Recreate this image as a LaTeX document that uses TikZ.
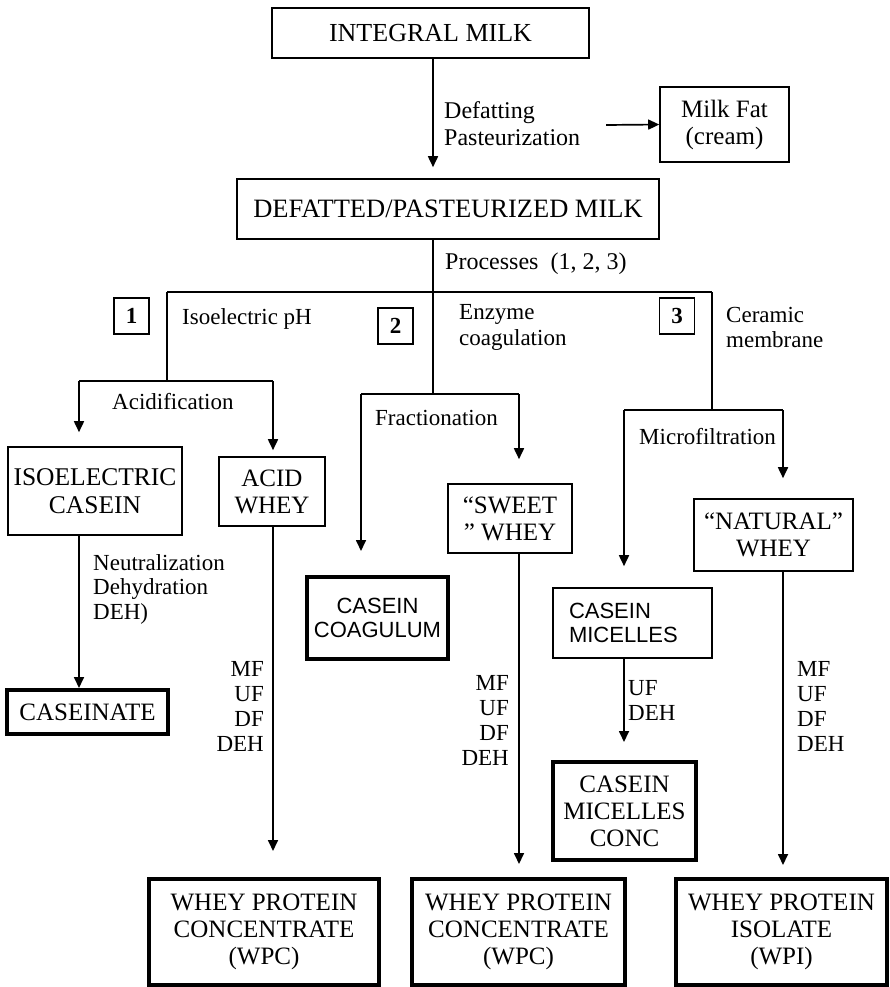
\documentclass[tikz,border=0pt]{standalone}
\usepackage{fontspec}
\setmainfont{Liberation Serif}
\newfontfamily\arialfont{Liberation Sans}
\usetikzlibrary{arrows.meta}
\newcommand\fsz[2]{\fontsize{#1}{#2}\selectfont}
\begin{document}
\begin{tikzpicture}[x=1pt,y=-1pt,
  every node/.style={inner sep=0pt},
  box/.style={draw, line width=1.6pt, align=center, font=\fsz{25}{27}},
  heavybox/.style={box, line width=4pt},
  sansbox/.style={font=\arialfont\fsz{22}{24}},
  numbox/.style={draw, line width=1.6pt, minimum width=35pt, minimum height=36pt, font=\bfseries\fsz{23}{24}},
  lbl/.style={anchor=north west, align=left, font=\fsz{23}{25}},
  rlbl/.style={lbl, anchor=north east, align=right},
  conn/.style={line width=1.7pt},
  arr/.style={conn, -{Triangle[length=11pt,width=10pt]}}]
\fill[white] (0,0) rectangle (889,987);
\useasboundingbox (0,0) rectangle (889,987);

% boxes
\node[box, minimum width=317pt, minimum height=50pt, font=\fsz{26}{28}] (integral) at (430.5,33) {INTEGRAL MILK};
\node[box, minimum width=422pt, minimum height=60pt, font=\fsz{26.5}{28}] (defatted) at (448,209) {DEFATTED/PASTEURIZED MILK};
\node[box, minimum width=129pt, minimum height=75pt] (milkfat) at (724.5,124.5) {Milk Fat\\(cream)};

\node[numbox] (n1) at (131.5,316) {1\hspace{11pt}};
\node[numbox] (n2) at (395.5,326) {2\hspace{11pt}};
\node[numbox] (n3) at (677,316) {3\hspace{11pt}};

\node[box, minimum width=174pt, minimum height=88pt, font=\fsz{25.5}{28}] (isocasein) at (95,491) {ISOELECTRIC\\CASEIN};
\node[box, minimum width=106pt, minimum height=69pt] (acidwhey) at (272,491.5) {ACID\\WHEY};
\node[box, minimum width=124pt, minimum height=69pt] (sweetwhey) at (510,518.5) {“SWEET\\” WHEY};
\node[heavybox, sansbox, minimum width=141pt, minimum height=82pt] (coagulum) at (377.5,618) {CASEIN\\COAGULUM};
\node[box, sansbox, align=left, text width=127pt, minimum width=159pt, minimum height=70pt] (micelles) at (632.5,623) {CASEIN\\MICELLES};
\node[box, minimum width=159pt, minimum height=72pt] (natwhey) at (773.5,535) {“NATURAL”\\WHEY};

\node[heavybox, minimum width=161pt, minimum height=44pt] (caseinate) at (87.5,712) {CASEINATE};
\node[heavybox, minimum width=143pt, minimum height=98pt] (micconc) at (624.5,811) {CASEIN\\MICELLES\\CONC};
\node[heavybox, minimum width=230pt, minimum height=106pt] (wpc1) at (264,932) {WHEY PROTEIN\\CONCENTRATE\\(WPC)};
\node[heavybox, minimum width=213pt, minimum height=106pt] (wpc2) at (518.5,932) {WHEY PROTEIN\\CONCENTRATE\\(WPC)};
\node[heavybox, minimum width=211pt, minimum height=106pt] (wpi) at (781.5,932) {WHEY PROTEIN\\ISOLATE\\(WPI)};

% process labels
\node[lbl, font=\fsz{24}{27}] (deflbl) at (444,101) {Defatting\\Pasteurization};
\node[lbl, font=\fsz{24}{27}] (proc) at (445,253) {Processes\ \ (1, 2, 3)};
\node[lbl] (isoph) at (182,308) {Isoelectric pH};
\node[lbl, font=\fsz{23}{26}] (enz) at (459,304) {Enzyme\\coagulation};
\node[lbl] (cer) at (726,307) {Ceramic\\membrane};
\node[lbl] (acidif) at (112,393) {Acidification};
\node[lbl] (frac) at (375,410) {Fractionation};
\node[lbl] (micf) at (639,428) {Microfiltration};
\node[lbl, font=\fsz{23}{24.5}] (neut) at (93,554) {Neutralization\\Dehydration\\DEH)};
\node[rlbl] (ops1) at (264,661) {MF\\UF\\DF\\DEH};
\node[rlbl] (ops2) at (509,675) {MF\\UF\\DF\\DEH};
\node[lbl] (ops3) at (797,661) {MF\\UF\\DF\\DEH};
\node[lbl] (ops4) at (628,680) {UF\\DEH};

% junction points
\coordinate (fatfrom) at (606,125);
\coordinate (split) at (433,292);
\coordinate (b1) at (167,292);
\coordinate (b3) at (712,292);
\coordinate (j1) at (167,381);
\coordinate (j1l) at (79,381);
\coordinate (j1r) at (273,381);
\coordinate (j2) at (433,394);
\coordinate (j2l) at (361,394);
\coordinate (j2r) at (519,394);
\coordinate (j3) at (712,410);
\coordinate (j3l) at (624,410);
\coordinate (j3r) at (783,410);

% connectors
\draw[arr, shorten >=11pt] (integral.south -| split) -- (defatted.north -| split);
\draw[arr] (fatfrom) -- (milkfat.west);
\draw[conn] (defatted.south -| split) -- (j2);
\draw[conn] (b1) -- (b3);
\draw[conn] (b1) -- (j1);
\draw[conn] (j1l) -- (j1r);
\draw[conn] (j2l) -- (j2r);
\draw[conn] (b3) -- (j3);
\draw[conn] (j3l) -- (j3r);

\draw[arr, shorten >=14pt] (j1l) -- (j1l |- isocasein.north);
\draw[arr, shorten >=6pt] (j1r) -- (j1r |- acidwhey.north);
\draw[arr, shorten >=24pt] (j2l) -- (j2l |- coagulum.north);
\draw[arr, shorten >=24pt] (j2r) -- (j2r |- sweetwhey.north);
\draw[arr, shorten >=21pt] (j3l) -- (j3l |- micelles.north);
\draw[arr, shorten >=20pt] (j3r) -- (j3r |- natwhey.north);

\draw[arr] (isocasein.south -| j1l) -- (caseinate.north -| j1l);
\draw[arr, shorten >=26pt] (acidwhey.south -| j1r) -- (wpc1.north -| j1r);
\draw[arr, shorten >=13pt] (sweetwhey.south -| j2r) -- (wpc2.north -| j2r);
\draw[arr, shorten >=18pt] (micelles.south -| j3l) -- (micconc.north -| j3l);
\draw[arr, shorten >=12pt] (natwhey.south -| j3r) -- (wpi.north -| j3r);
\end{tikzpicture}
\end{document}
